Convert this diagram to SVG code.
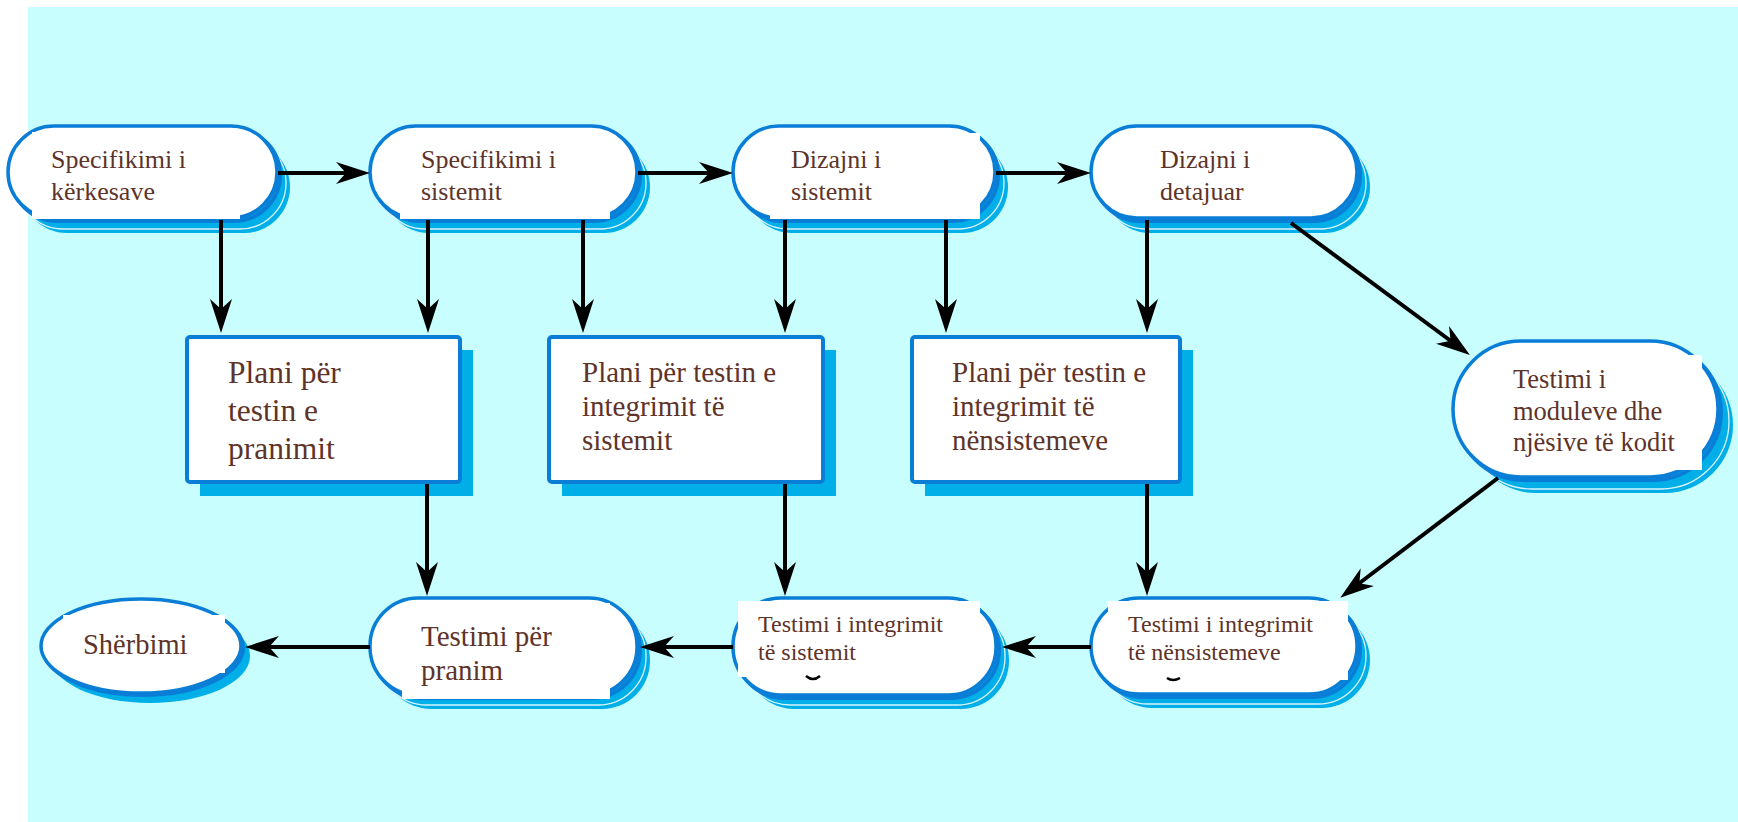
<svg xmlns="http://www.w3.org/2000/svg" width="1738" height="822" viewBox="0 0 1738 822">
  <style>
    .bg { fill: #C8FEFE; }
    .shadow { fill: #00AEE8; }
    .gloss { fill: none; stroke: #FFFFFF; stroke-width: 1.3; opacity: 0.85; }
    .band { fill: none; stroke: #0A7ED6; stroke-width: 4; }
    .pill { fill: #FFFFFF; stroke: #0A7ED6; stroke-width: 3.5; }
    .box { fill: #FFFFFF; stroke: #0A7ED6; stroke-width: 4; }
    .mask { fill: #FFFFFF; }
    .t { font-family: "Liberation Serif", "Times New Roman", serif; fill: #5E3329; }
    .conn { fill: none; stroke: #000000; stroke-width: 4; marker-end: url(#arrow); }
    .nick { fill: none; stroke: #000000; stroke-width: 2.5; }
  </style>
  <defs>
    <marker id="arrow" markerUnits="userSpaceOnUse" viewBox="-20 -12 38 24" markerWidth="38" markerHeight="24" refX="0" refY="0" orient="auto" overflow="visible">
      <path d="M16,0 L-18,-11 L-8,0 L-18,11 Z" fill="#000000"/>
    </marker>
  </defs>

  <!-- page background -->
  <rect x="0" y="0" width="1738" height="822" fill="#FFFFFF"/>
  <rect class="bg" x="28" y="7" width="1710" height="815"/>

  <!-- top row -->
  <g id="spec-kerkesave">
    <rect class="shadow" x="21" y="141" width="269" height="92" rx="46"/>
    <rect class="gloss" x="17" y="137" width="269" height="92" rx="46"/>
    <rect class="band" x="11" y="129" width="269" height="92" rx="46"/>
    <rect class="pill" x="8" y="126" width="269" height="92" rx="46"/>
    <rect class="mask" x="32" y="132" width="208" height="87"/>
    <text class="t" font-size="26"><tspan x="51" y="168">Specifikimi i</tspan><tspan x="51" y="200">kërkesave</tspan></text>
  </g>

  <g id="spec-sistemit">
    <rect class="shadow" x="383" y="141" width="267" height="92" rx="46"/>
    <rect class="gloss" x="379" y="137" width="267" height="92" rx="46"/>
    <rect class="band" x="373" y="129" width="267" height="92" rx="46"/>
    <rect class="pill" x="370" y="126" width="267" height="92" rx="46"/>
    <rect class="mask" x="400" y="132" width="210" height="87"/>
    <text class="t" font-size="26"><tspan x="421" y="168">Specifikimi i</tspan><tspan x="421" y="200">sistemit</tspan></text>
  </g>

  <g id="dizajni-sistemit">
    <rect class="shadow" x="746" y="141" width="262" height="92" rx="46"/>
    <rect class="gloss" x="742" y="137" width="262" height="92" rx="46"/>
    <rect class="band" x="736" y="129" width="262" height="92" rx="46"/>
    <rect class="pill" x="733" y="126" width="262" height="92" rx="46"/>
    <rect class="mask" x="770" y="133" width="210" height="86"/>
    <text class="t" font-size="26"><tspan x="791" y="168">Dizajni i</tspan><tspan x="791" y="200">sistemit</tspan></text>
  </g>

  <g id="dizajni-detajuar">
    <rect class="shadow" x="1104" y="141" width="266" height="92" rx="46"/>
    <rect class="gloss" x="1100" y="137" width="266" height="92" rx="46"/>
    <rect class="band" x="1094" y="129" width="266" height="92" rx="46"/>
    <rect class="pill" x="1091" y="126" width="266" height="92" rx="46"/>
    <text class="t" font-size="26"><tspan x="1160" y="168">Dizajni i</tspan><tspan x="1160" y="200">detajuar</tspan></text>
  </g>

  <!-- middle row: test plans -->
  <g id="plani-pranimit">
    <rect class="shadow" x="200" y="350" width="273" height="146"/>
    <rect class="box" x="187" y="337" width="273" height="145" rx="3"/>
    <text class="t" font-size="31.5"><tspan x="228" y="383">Plani për</tspan><tspan x="228" y="421">testin e</tspan><tspan x="228" y="459">pranimit</tspan></text>
  </g>

  <g id="plani-integrimit-sistemit">
    <rect class="shadow" x="562" y="350" width="274" height="146"/>
    <rect class="box" x="549" y="337" width="274" height="145" rx="3"/>
    <text class="t" font-size="29"><tspan x="582" y="382">Plani për testin e</tspan><tspan x="582" y="416">integrimit të</tspan><tspan x="582" y="450">sistemit</tspan></text>
  </g>

  <g id="plani-integrimit-nensistemeve">
    <rect class="shadow" x="925" y="350" width="268" height="146"/>
    <rect class="box" x="912" y="337" width="268" height="145" rx="3"/>
    <text class="t" font-size="29"><tspan x="952" y="382">Plani për testin e</tspan><tspan x="952" y="416">integrimit të</tspan><tspan x="952" y="450">nënsistemeve</tspan></text>
  </g>

  <g id="testimi-moduleve">
    <rect class="shadow" x="1468" y="357" width="265" height="136" rx="68"/>
    <rect class="gloss" x="1464" y="353" width="265" height="136" rx="68"/>
    <rect class="band" x="1456" y="344" width="265" height="136" rx="68"/>
    <rect class="pill" x="1453" y="341" width="265" height="136" rx="68"/>
    <rect class="mask" x="1500" y="355" width="202" height="115"/>
    <text class="t" font-size="26.5"><tspan x="1513" y="388">Testimi i</tspan><tspan x="1513" y="420">moduleve dhe</tspan><tspan x="1513" y="451">njësive të kodit</tspan></text>
  </g>

  <!-- bottom row -->
  <g id="sherbimi">
    <ellipse class="shadow" cx="150" cy="656" rx="100" ry="47"/>
    <ellipse class="band" cx="143" cy="648" rx="100" ry="47"/>
    <ellipse class="pill" cx="141" cy="646" rx="100" ry="47"/>
    <rect class="mask" x="63" y="615" width="162" height="58"/>
    <text class="t" font-size="28.5" x="83" y="654">Shërbimi</text>
  </g>

  <g id="testimi-pranim">
    <rect class="shadow" x="383" y="612" width="267" height="97" rx="48"/>
    <rect class="gloss" x="379" y="608" width="267" height="97" rx="48"/>
    <rect class="band" x="373" y="601" width="267" height="97" rx="48"/>
    <rect class="pill" x="370" y="598" width="267" height="97" rx="48"/>
    <rect class="mask" x="402" y="603" width="208" height="96"/>
    <text class="t" font-size="29"><tspan x="421" y="646">Testimi për</tspan><tspan x="421" y="680">pranim</tspan></text>
  </g>

  <g id="testimi-integrimit-sistemit">
    <rect class="shadow" x="746" y="612" width="263" height="97" rx="48"/>
    <rect class="gloss" x="742" y="608" width="263" height="97" rx="48"/>
    <rect class="band" x="736" y="601" width="263" height="97" rx="48"/>
    <rect class="pill" x="733" y="598" width="263" height="97" rx="48"/>
    <rect class="mask" x="738" y="601" width="242" height="76"/>
    <path class="nick" d="M806,676 Q813,682 820,676"/>
    <text class="t" font-size="24"><tspan x="758" y="632">Testimi i integrimit</tspan><tspan x="758" y="660">të sistemit</tspan></text>
  </g>

  <g id="testimi-integrimit-nensistemeve">
    <rect class="shadow" x="1104" y="612" width="266" height="96" rx="48"/>
    <rect class="gloss" x="1100" y="608" width="266" height="96" rx="48"/>
    <rect class="band" x="1094" y="601" width="266" height="96" rx="48"/>
    <rect class="pill" x="1091" y="598" width="266" height="96" rx="48"/>
    <rect class="mask" x="1108" y="601" width="240" height="79"/>
    <path class="nick" d="M1167,678 Q1173,682 1180,678"/>
    <text class="t" font-size="24"><tspan x="1128" y="632">Testimi i integrimit</tspan><tspan x="1128" y="660">të nënsistemeve</tspan></text>
  </g>

  <!-- connectors -->
  <g id="connectors">
    <path class="conn" d="M278,173 H354"/>
    <path class="conn" d="M638,173 H717"/>
    <path class="conn" d="M996,173 H1075"/>

    <path class="conn" d="M221,220 V317"/>
    <path class="conn" d="M428,220 V317"/>
    <path class="conn" d="M583,220 V317"/>
    <path class="conn" d="M785,220 V317"/>
    <path class="conn" d="M946,220 V317"/>
    <path class="conn" d="M1147,220 V317"/>

    <path class="conn" d="M1291,223 L1457,345.5"/>

    <path class="conn" d="M427,484 V580"/>
    <path class="conn" d="M785,484 V580"/>
    <path class="conn" d="M1147,484 V580"/>

    <path class="conn" d="M1498,478 L1353,588"/>

    <path class="conn" d="M1091,647 H1018"/>
    <path class="conn" d="M733,647 H656"/>
    <path class="conn" d="M370,647 H261"/>
  </g>
</svg>
